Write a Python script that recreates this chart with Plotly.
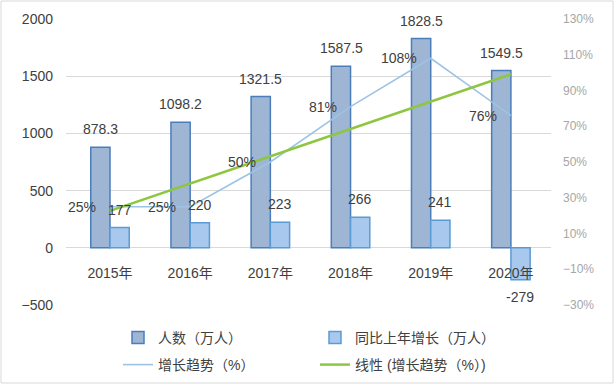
import numpy as np
import plotly.graph_objects as go

years = ["2015年", "2016年", "2017年", "2018年", "2019年", "2020年"]
people = [878.3, 1098.2, 1321.5, 1587.5, 1828.5, 1549.5]
increase = [177, 220, 223, 266, 241, -279]
growth_pct = [25, 25, 50, 81, 108, 76]

# linear trendline of the growth series (as Excel's 线性 trendline)
idx = np.arange(1, len(growth_pct) + 1)
slope, intercept = np.polyfit(idx, growth_pct, 1)
trend = list(slope * idx + intercept)

FONT = "Liberation Sans, Noto Sans CJK SC, sans-serif"
TXT = "#404040"

fig = go.Figure()
fig.add_trace(go.Bar(
    x=years, y=people, name="人数（万人）",
    marker=dict(color="#9fb5d4", line=dict(color="#4a7ebb", width=1.5)),
    legend="legend",
))
fig.add_trace(go.Bar(
    x=years, y=increase, name="同比上年增长（万人）",
    marker=dict(color="#a9c8ed", line=dict(color="#5b9bd5", width=1.5)),
    legend="legend",
))
fig.add_trace(go.Scatter(
    x=years, y=growth_pct, name="增长趋势（%）", yaxis="y2", mode="lines",
    line=dict(color="#9dc3e6", width=1.6), legend="legend2",
))
fig.add_trace(go.Scatter(
    x=years, y=trend, name="线性 (增长趋势（%）)", yaxis="y2", mode="lines",
    line=dict(color="#8dc63f", width=2.5), legend="legend2",
))

ann = []
for y_, v in zip(years, people):
    ann.append(dict(x=y_, y=v, xref="x", yref="y", text=f"{v:.1f}", showarrow=False,
                    xshift=-9.5, yshift=18, yanchor="middle",
                    font=dict(size=14, color=TXT, family=FONT)))
for y_, v in zip(years, increase):
    ann.append(dict(x=y_, y=v, xref="x", yref="y", text=f"{v}", showarrow=False,
                    xshift=9.5, yshift=18 if v >= 0 else -17, yanchor="middle",
                    font=dict(size=14, color=TXT, family=FONT)))
for y_, v in zip(years, growth_pct):
    ann.append(dict(x=y_, y=v, xref="x", yref="y2", text=f"{v}%", showarrow=False,
                    xanchor="right", xshift=-12, yanchor="middle",
                    font=dict(size=14, color=TXT, family=FONT)))

W, H = 616, 385
L, R, T, B = 66, 65, 19, 80
pw, ph = W - L - R, H - T - B

def px_x(p):
    return (p - L) / pw

def px_y(p):
    return (H - B - p) / ph

fig.update_layout(
    width=W, height=H,
    margin=dict(l=L, r=R, t=T, b=B, autoexpand=False),
    paper_bgcolor="white", plot_bgcolor="white",
    barmode="group", bargap=0.52, bargroupgap=0,
    font=dict(family=FONT, size=14, color=TXT),
    showlegend=True,
    xaxis=dict(
        type="category", anchor="free", position=px_y(248),
        showgrid=False, showline=False, zeroline=False,
        ticks="", ticklabelstandoff=15,
        tickfont=dict(size=14, color=TXT, family=FONT),
    ),
    yaxis=dict(
        range=[-500, 2000], dtick=500, tick0=0,
        showgrid=True, gridcolor="#d9d9d9", gridwidth=1,
        zeroline=True, zerolinecolor="#d9d9d9", zerolinewidth=1,
        showline=False, ticks="", ticklabelstandoff=12,
        tickfont=dict(size=14, color=TXT, family=FONT),
    ),
    yaxis2=dict(
        overlaying="y", side="right", range=[-30, 130], dtick=20, tick0=10,
        ticksuffix="%", showgrid=False, zeroline=False, showline=False,
        ticks="", ticklabelstandoff=11,
        tickfont=dict(size=12, color="#a6a6a6", family=FONT),
    ),
    legend=dict(
        orientation="h", xref="container", yref="container",
        x=118 / W, y=(H - 338) / H, xanchor="left", yanchor="middle",
        entrywidth=152, entrywidthmode="pixels",
        font=dict(size=14, color=TXT, family=FONT), bgcolor="rgba(0,0,0,0)",
    ),
    legend2=dict(
        orientation="h", xref="container", yref="container",
        x=118 / W, y=(H - 365) / H, xanchor="left", yanchor="middle",
        entrywidth=152, entrywidthmode="pixels",
        font=dict(size=14, color=TXT, family=FONT), bgcolor="rgba(0,0,0,0)",
    ),
    annotations=ann,
    shapes=[dict(type="rect", xref="paper", yref="paper",
                 x0=px_x(1), x1=px_x(613), y0=px_y(383), y1=px_y(1),
                 line=dict(color="#d9d9d9", width=1), fillcolor="rgba(0,0,0,0)",
                 layer="below")],
)

fig.write_html("out.html",
               config={"displayModeBar": False},
               post_script="document.body.style.margin='0';document.body.style.padding='0';")
